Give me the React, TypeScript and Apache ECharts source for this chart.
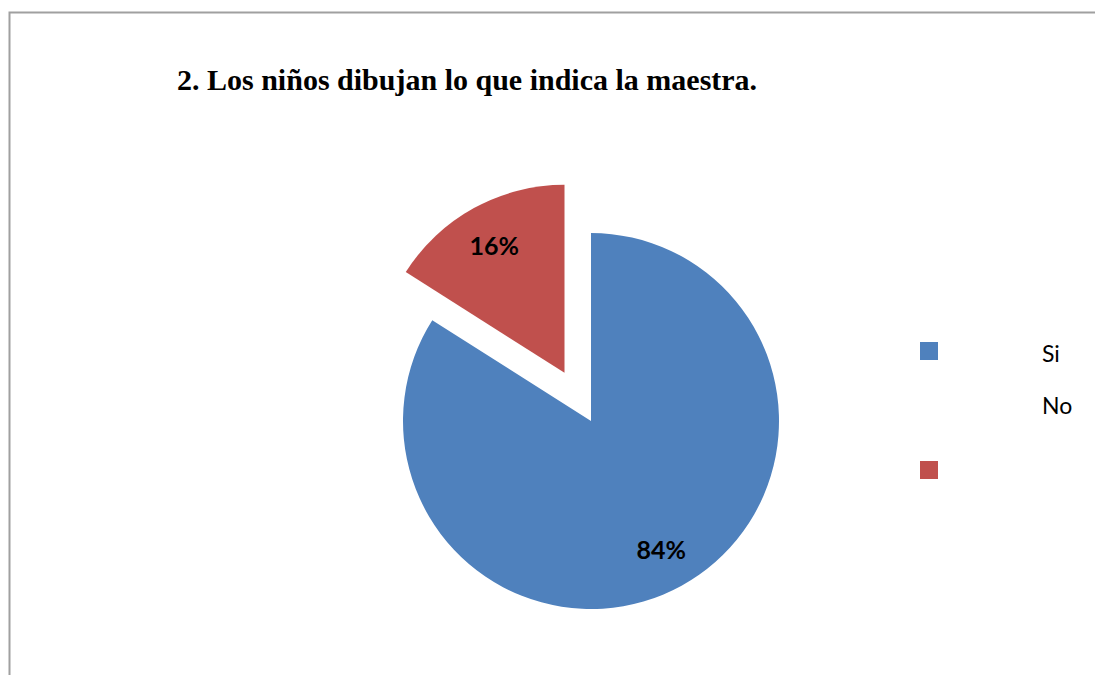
import React, { useEffect, useRef } from "react";
import * as echarts from "echarts";

const titleText = "2. Los niños dibujan lo que indica la maestra.";
const categories = ["Si", "No"];
const values = [84, 16];
const colors = ["#4F81BD", "#C0504D"];

export default function App() {
  const ref = useRef<HTMLDivElement>(null);
  useEffect(() => {
    if (!ref.current) return;
    const chart = echarts.init(ref.current, undefined, { renderer: "svg" });
    const data = categories.map((name, i) => ({
      name,
      value: values[i],
      selected: i === 1,
      itemStyle: { color: colors[i] },
    }));
    const labelData = categories.map((name, i) => ({
      name,
      value: values[i],
      selected: i === 1,
    }));
    const R = 188;
    chart.setOption({
      animation: false,
      backgroundColor: "#ffffff",
      title: {
        text: titleText,
        left: 177,
        top: 64,
        padding: 0,
        textStyle: {
          fontFamily: "Liberation Serif",
          fontWeight: "bold",
          fontSize: 30,
          color: "#000000",
        },
      },
      series: [
        {
          type: "pie",
          center: [591, 421],
          radius: [0, R],
          startAngle: 90,
          clockwise: true,
          selectedMode: "single",
          selectedOffset: 55,
          silent: true,
          label: { show: false },
          labelLine: { show: false },
          data,
        },
        {
          type: "pie",
          center: [591, 421],
          radius: [0, R * 1.52],
          startAngle: 90,
          clockwise: true,
          selectedMode: "single",
          selectedOffset: 55,
          silent: true,
          itemStyle: { color: "rgba(0,0,0,0)" },
          label: {
            show: true,
            position: "inside",
            formatter: (p: any) => p.value + "%",
            fontFamily: "Lato",
            fontWeight: "bold",
            fontSize: 25,
            color: "#000000",
          },
          labelLine: { show: false },
          data: labelData,
        },
      ],
      graphic: [
        {
          type: "rect",
          shape: { x: 9.5, y: 12.5, width: 1200, height: 800 },
          style: { fill: "none", stroke: "#a0a0a0", lineWidth: 2 },
          silent: true,
        },
        {
          type: "rect",
          shape: { x: 920, y: 342, width: 18, height: 18 },
          style: { fill: colors[0] },
        },
        {
          type: "rect",
          shape: { x: 920, y: 461, width: 18, height: 18 },
          style: { fill: colors[1] },
        },
        {
          type: "text",
          x: 1042,
          y: 364,
          style: {
            text: categories[0],
            fontFamily: "Lato",
            fontSize: 23,
            fill: "#000000",
            textVerticalAlign: "bottom",
          },
        },
        {
          type: "text",
          x: 1042,
          y: 416,
          style: {
            text: categories[1],
            fontFamily: "Lato",
            fontSize: 23,
            fill: "#000000",
            textVerticalAlign: "bottom",
          },
        },
      ],
    });
    return () => chart.dispose();
  }, []);
  return (
    <div
      ref={ref}
      style={{ position: "fixed", left: 0, top: 0, width: 1095, height: 675 }}
    />
  );
}
